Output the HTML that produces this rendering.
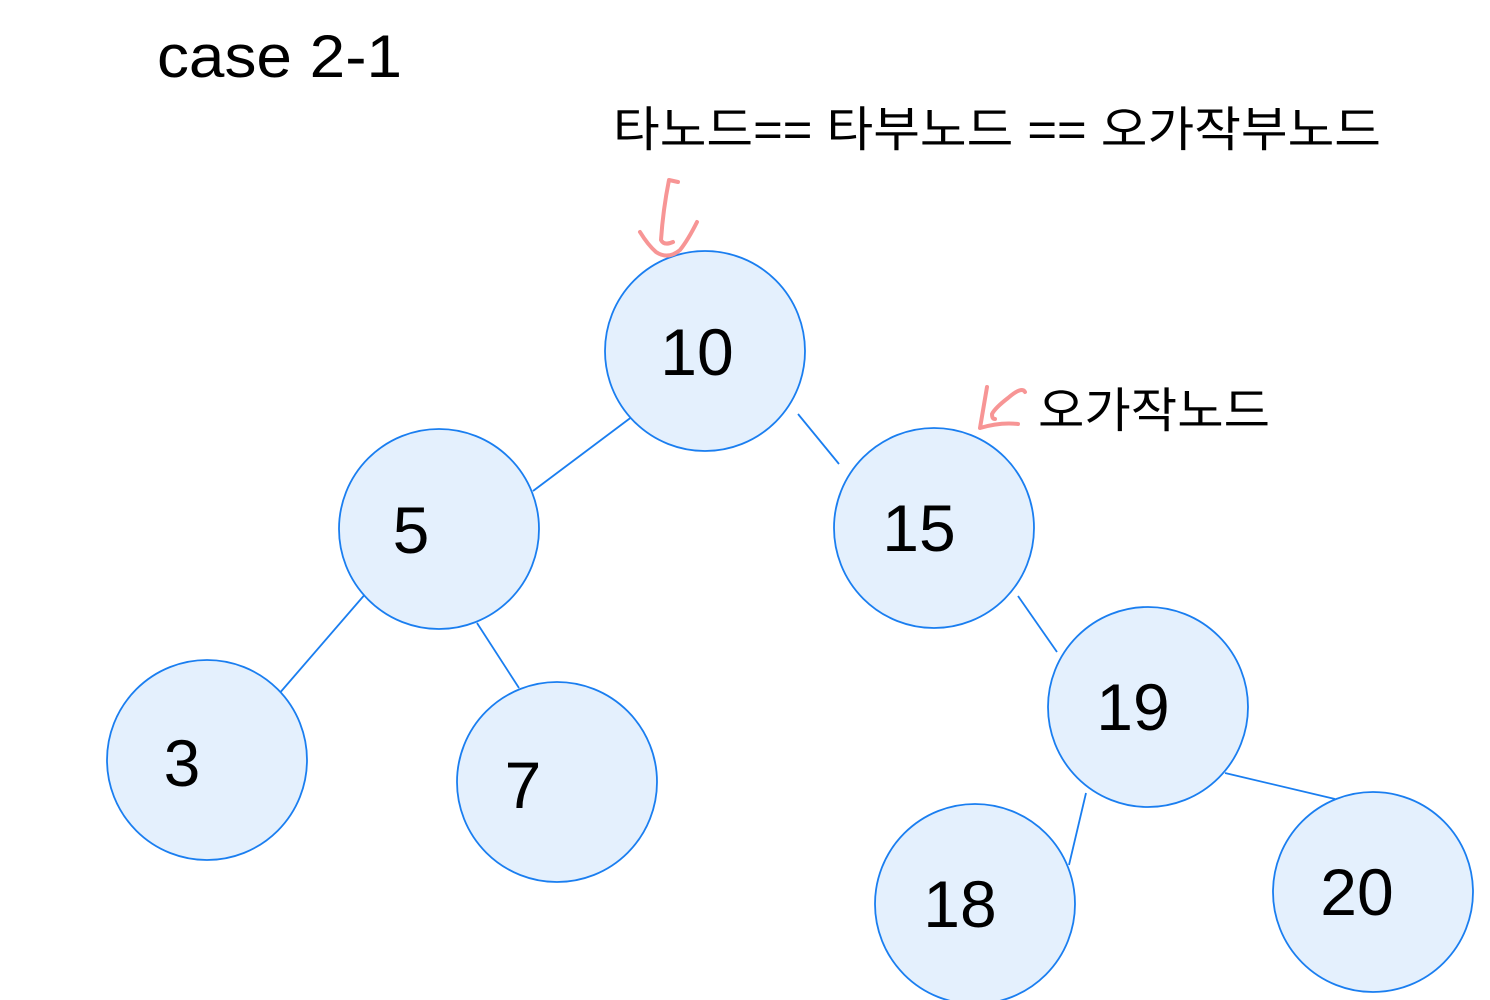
<!DOCTYPE html>
<html><head><meta charset="utf-8"><style>body{margin:0;background:#fff}svg{display:block}</style></head>
<body>
<svg width="1490" height="1000" viewBox="0 0 1490 1000" xmlns="http://www.w3.org/2000/svg">
<g stroke="#1a7ef0" stroke-width="1.8">
<line x1="633" y1="416" x2="533" y2="491"/>
<line x1="798" y1="414" x2="839" y2="464"/>
<line x1="367" y1="592" x2="278" y2="695"/>
<line x1="477" y1="623" x2="519" y2="688"/>
<line x1="1018" y1="596" x2="1057" y2="652"/>
<line x1="1086" y1="793" x2="1069" y2="865"/>
<line x1="1225" y1="773" x2="1335" y2="799"/>
</g>
<g fill="#e4f0fd" stroke="#1a7ef0" stroke-width="1.8">
<circle cx="705" cy="351" r="100"/>
<circle cx="439" cy="529" r="100"/>
<circle cx="934" cy="528" r="100"/>
<circle cx="207" cy="760" r="100"/>
<circle cx="557" cy="782" r="100"/>
<circle cx="1148" cy="707" r="100"/>
<circle cx="975" cy="904" r="100"/>
<circle cx="1373" cy="892" r="100"/>
</g>
<g font-family="Liberation Sans, sans-serif" font-size="66" fill="#000" text-anchor="middle">
<text x="697" y="375">10</text>
<text x="411" y="553">5</text>
<text x="919" y="551">15</text>
<text x="182" y="786">3</text>
<text x="523" y="808">7</text>
<text x="1133" y="730">19</text>
<text x="960" y="927">18</text>
<text x="1357" y="915">20</text>
</g>
<text x="157" y="77" font-family="Liberation Sans, sans-serif" font-size="60" fill="#000" textLength="245" lengthAdjust="spacingAndGlyphs">case 2-1</text>
<text x="613" y="146" font-family="Liberation Sans, 'Noto Sans CJK KR', sans-serif" font-size="48" fill="#000" textLength="768" lengthAdjust="spacingAndGlyphs">타노드== 타부노드 == 오가작부노드</text>
<text x="1038" y="427" font-family="Liberation Sans, 'Noto Sans CJK KR', sans-serif" font-size="48" fill="#000" textLength="232" lengthAdjust="spacingAndGlyphs">오가작노드</text>
<g fill="none" stroke="#f79595" stroke-width="4" stroke-linecap="round" stroke-linejoin="round">
<path d="M678 182 L669 180 Q663 210 661 240 Q664 246 673 242"/>
<path d="M697 222 Q688 240 680 250 Q668 260 656 252 Q648 245 640 232"/>
<path d="M987 387 L980 428 Q1000 422 1018 424"/>
<path d="M1025 392 Q1022 386 1008 398 Q995 408 992 414 Q992 419 995 419"/>
</g>
</svg>
</body></html>
